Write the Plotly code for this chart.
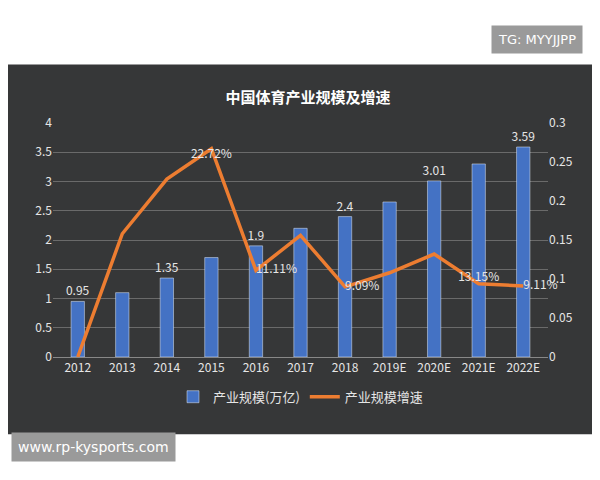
import plotly.graph_objects as go

years = ['2012', '2013', '2014', '2015', '2016', '2017', '2018', '2019E', '2020E', '2021E', '2022E']
scale = [0.95, 1.1, 1.35, 1.7, 1.9, 2.2, 2.4, 2.65, 3.01, 3.3, 3.59]
scale_labels = ['0.95', '', '1.35', '', '1.9', '', '2.4', '', '3.01', '', '3.59']
growth = [0.0, 0.158, 0.228, 0.267, 0.111, 0.156, 0.09, 0.108, 0.132, 0.094, 0.091]
growth_labels = ['', '', '', '22.72%', '11.11%', '', '9.09%', '', '', '13.15%', '9.11%']
growth_pos = ['top center', 'top center', 'top center', 'bottom center', 'middle right', 'top center',
              'middle right', 'top center', 'top center', 'top center', 'middle right']

FONT = 'Noto Sans CJK SC'
TXT = '#e6e6e6'

fig = go.Figure()
fig.add_bar(x=years, y=scale, name='产业规模(万亿)', marker_color='#4472c4', width=0.3,
            text=scale_labels, textposition='outside', textfont=dict(color=TXT, size=12),
            constraintext='none', cliponaxis=False)
fig.add_scatter(x=years, y=growth, name='产业规模增速', yaxis='y2', mode='lines+text',
                line=dict(color='#ed7d31', width=3.5), text=growth_labels,
                textposition=growth_pos, textfont=dict(color=TXT, size=12), cliponaxis=False)

fig.update_layout(
    width=600, height=480,
    margin=dict(l=45, r=60, t=115, b=131),
    paper_bgcolor='white', plot_bgcolor='rgba(0,0,0,0)',
    font=dict(family=FONT, color=TXT, size=12),
    title=dict(text='<b>中国体育产业规模及增速</b>', x=0.5, y=0.825, xanchor='center',
               font=dict(size=15, color='white')),
    xaxis=dict(showgrid=False, tickfont=dict(color=TXT), linecolor='#888'),
    yaxis=dict(range=[0, 4], dtick=0.5, gridcolor='#6a6a6a', zeroline=False,
               tickfont=dict(color=TXT)),
    yaxis2=dict(range=[0, 0.3], dtick=0.05, overlaying='y', side='right', showgrid=False,
                zeroline=False, tickfont=dict(color=TXT)),
    legend=dict(orientation='h', x=0.5, xanchor='center', y=-0.17, yanchor='middle',
                font=dict(color=TXT, size=13), bgcolor='rgba(0,0,0,0)'),
    bargap=0.5,
    shapes=[dict(type='rect', xref='paper', yref='paper', x0=-0.12, x1=1.14,
                 y0=-0.33, y1=1.25, fillcolor='#363738', line_width=0, layer='below')],
    annotations=[
        dict(text='TG: MYYJJPP', xref='paper', yref='paper', x=1.07, y=1.42, xanchor='right',
             showarrow=False, bgcolor='#9a9a9a', borderpad=6,
             font=dict(color='white', size=13, family='DejaVu Sans')),
        dict(text='www.rp-kysports.com', xref='paper', yref='paper', x=-0.085, y=-0.45,
             xanchor='left', showarrow=False, bgcolor='#9a9a9a', borderpad=6,
             font=dict(color='white', size=14, family='DejaVu Sans')),
    ],
)

fig.write_html('out.html')
